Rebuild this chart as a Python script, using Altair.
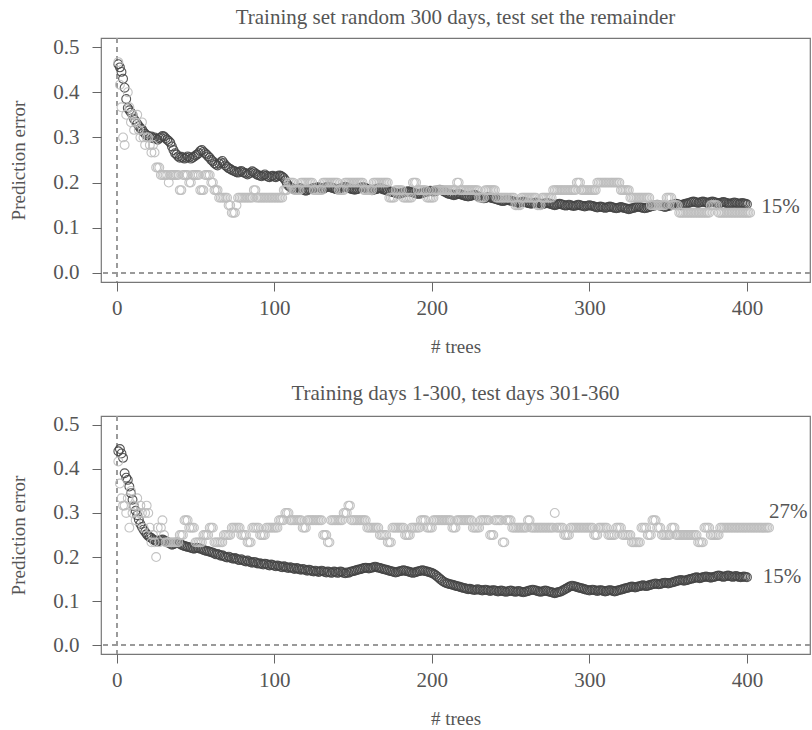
import altair as alt
import pandas as pd

# ---------------- data ----------------
TREE_TICKS = [0, 100, 200, 300, 400]
ERR_TICKS = [0.0, 0.1, 0.2, 0.3, 0.4, 0.5]

TITLE1 = "Training set random 300 days, test set the remainder"
TITLE2 = "Training days 1-300, test days 301-360"

# Panel 1: OOB error (per mille) for trees 1..400
oob1 = [
    462, 455, 445, 430, 410, 385, 365, 360, 355, 350, 340, 335, 330, 325, 320, 318, 312, 308, 305, 303,
    300, 302, 298, 300, 297, 295, 298, 300, 303, 302, 298, 295, 292, 288, 280, 272, 265, 262, 258, 255,
    257, 255, 253, 255, 258, 256, 253, 255, 257, 260, 262, 265, 270, 272, 268, 265, 262, 258, 255, 250,
    247, 243, 240, 238, 242, 245, 248, 243, 238, 235, 232, 230, 228, 226, 225, 223, 222, 224, 226, 223,
    222, 220, 218, 220, 222, 225, 223, 220, 218, 216, 215, 214, 216, 218, 215, 213, 212, 214, 215, 213,
    212, 214, 216, 215, 213, 210, 205, 198, 193, 190, 188, 186, 185, 184, 186, 188, 187, 185, 183, 182,
    183, 185, 186, 187, 188, 188, 189, 190, 188, 187, 186, 188, 190, 191, 190, 189, 188, 187, 186, 185,
    186, 187, 188, 190, 191, 190, 188, 187, 186, 185, 184, 185, 186, 188, 189, 190, 189, 188, 186, 185,
    184, 183, 184, 185, 186, 187, 188, 187, 185, 184, 183, 182, 181, 180, 179, 178, 177, 176, 175, 176,
    177, 178, 179, 180, 181, 180, 179, 178, 177, 176, 175, 175, 176, 177, 178, 179, 180, 181, 182, 181,
    180, 181, 182, 183, 184, 183, 182, 180, 178, 176, 175, 174, 173, 172, 173, 174, 175, 174, 173, 172,
    171, 170, 169, 170, 171, 172, 173, 172, 170, 168, 167, 166, 165, 166, 167, 168, 167, 166, 165, 164,
    163, 162, 161, 160, 159, 160, 161, 162, 161, 160, 159, 158, 157, 156, 155, 156, 157, 158, 157, 156,
    155, 154, 153, 154, 155, 156, 155, 154, 153, 152, 153, 154, 155, 154, 153, 152, 151, 150, 151, 152,
    153, 152, 151, 150, 149, 150, 151, 150, 149, 148, 149, 150, 151, 150, 149, 148, 147, 148, 149, 150,
    149, 148, 147, 146, 145, 146, 147, 146, 145, 144, 145, 146, 147, 146, 145, 144, 143, 144, 145, 146,
    145, 144, 143, 142, 141, 142, 143, 144, 145, 146, 147, 146, 145, 144, 143, 144, 145, 146, 147, 148,
    149, 150, 151, 150, 149, 148, 147, 146, 147, 148, 149, 150, 151, 152, 153, 152, 151, 150, 151, 152,
    153, 154, 155, 156, 157, 158, 157, 156, 155, 156, 157, 158, 157, 156, 155, 156, 157, 158, 157, 156,
    155, 154, 155, 156, 157, 156, 155, 154, 153, 154, 155, 156, 155, 154, 153, 154, 155, 154, 153, 152,
]

# Panel 1: test error, in sixtieths (60 test days); first trees one by one, then runs
test1_head = [28, 25, 22, 18, 17, 21, 24, 22, 20, 21, 19, 20, 21, 19, 18, 20, 18, 17, 18, 18,
              17, 16, 17, 16, 14, 14, 14]
test1_level = [13, 12, 13, 11, 13, 12, 13, 11, 13, 12,
               11, 10, 9, 8, 9, 10, 11, 10,
               10, 11, 12, 11,
               12, 11, 12, 11, 12, 11, 12,
               10, 11, 10, 12, 11, 10, 11,
               11, 12, 11, 10, 11,
               10, 9, 10, 9, 10,
               11, 12, 11, 12,
               12, 11, 10,
               10, 9, 10, 9,
               8, 9, 8]
test1_count = [5, 1, 6, 2, 4, 2, 5, 3, 4, 2,
               3, 6, 2, 3, 1, 10, 2, 12,
               5, 3, 4, 4,
               8, 6, 10, 4, 12, 6, 10,
               4, 5, 6, 3, 6, 5, 4,
               10, 2, 12, 4, 7,
               12, 4, 10, 3, 7,
               15, 3, 10, 9,
               6, 6, 5,
               8, 10, 4, 4,
               20, 5, 21]

# Panel 2: OOB error (per mille) for trees 1..400
oob2 = [
    440, 445, 435, 425, 390, 380, 375, 360, 345, 330, 315, 305, 295, 285, 275, 268, 262, 257, 252, 248,
    245, 243, 240, 238, 236, 235, 237, 239, 240, 238, 236, 234, 232, 230, 228, 229, 231, 233, 232, 230,
    228, 226, 225, 224, 223, 222, 221, 220, 219, 220, 221, 220, 219, 218, 216, 215, 214, 213, 212, 211,
    210, 208, 206, 207, 205, 203, 204, 202, 200, 199, 201, 199, 197, 196, 198, 196, 194, 193, 195, 193,
    191, 190, 192, 190, 188, 187, 189, 188, 186, 185, 186, 184, 183, 185, 184, 182, 181, 183, 182, 180,
    179, 181, 180, 178, 177, 179, 178, 176, 175, 177, 176, 174, 173, 175, 174, 172, 171, 173, 172, 170,
    169, 171, 170, 168, 167, 169, 168, 166, 167, 169, 168, 166, 165, 167, 166, 164, 165, 167, 166, 164,
    165, 167, 166, 164, 163, 165, 164, 166, 167, 168, 169, 170, 171, 172, 173, 174, 175, 176, 175, 174,
    175, 176, 177, 178, 177, 176, 175, 174, 173, 172, 171, 170, 169, 168, 167, 166, 165, 166, 167, 168,
    169, 170, 169, 168, 167, 166, 165, 164, 165, 166, 167, 168, 169, 170, 169, 168, 167, 166, 165, 164,
    162, 160, 157, 154, 151, 148, 145, 143, 141, 140, 139, 138, 137, 136, 135, 134, 133, 132, 131, 130,
    129, 128, 127, 128, 127, 126, 125, 126, 127, 126, 125, 124, 125, 126, 125, 124, 123, 124, 125, 124,
    123, 122, 123, 124, 123, 122, 121, 122, 123, 124, 123, 122, 121, 122, 123, 122, 121, 120, 121, 122,
    123, 124, 125, 126, 125, 124, 123, 122, 121, 122, 123, 124, 123, 122, 121, 120, 119, 118, 119, 120,
    121, 122, 124, 126, 128, 130, 132, 134, 135, 134, 133, 132, 131, 130, 129, 128, 127, 126, 125, 124,
    125, 126, 125, 124, 123, 124, 125, 124, 123, 122, 123, 124, 125, 124, 123, 122, 123, 124, 125, 126,
    127, 128, 129, 130, 131, 132, 133, 132, 131, 132, 133, 134, 135, 136, 135, 134, 135, 136, 137, 138,
    139, 140, 139, 138, 139, 140, 141, 142, 141, 140, 141, 142, 143, 144, 145, 146, 147, 148, 147, 146,
    147, 148, 149, 150, 151, 152, 153, 154, 153, 152, 153, 154, 155, 156, 155, 154, 153, 154, 155, 156,
    157, 158, 157, 156, 155, 156, 157, 158, 157, 156, 155, 156, 157, 156, 155, 154, 155, 156, 155, 154,
]

# Panel 2: test error, in sixtieths
test2_head = [25, 22, 20, 19, 19, 18, 20, 16, 21, 18, 19, 17, 20, 18, 19, 18, 16, 18, 19, 18,
              16, 14, 15, 14, 12, 16, 14, 16, 17, 15, 14, 14, 14, 14, 14]
test2_level = [14, 15, 17, 16, 14, 15, 16, 14, 15, 16, 15, 14, 16, 15, 16,
               16, 17, 18, 17, 16, 17, 15, 14, 17, 18, 19, 17, 16,
               16, 15, 14, 16, 15, 16, 17, 16,
               17, 16, 17, 16, 17, 15, 17, 14, 17,
               16, 17, 16, 18, 16, 15, 16, 15, 16, 15, 16,
               15, 14, 16, 15, 17, 16, 15, 16, 15,
               15, 14, 16, 15, 16]
test2_count = [4, 3, 3, 4, 5, 4, 3, 6, 5, 6, 4, 3, 5, 4, 5,
               3, 4, 3, 8, 3, 10, 3, 2, 8, 3, 2, 10, 2,
               6, 5, 3, 8, 4, 6, 4, 4,
               12, 3, 10, 5, 6, 3, 5, 2, 4,
               10, 2, 15, 1, 5, 4, 15, 3, 6, 5, 4,
               6, 6, 4, 3, 3, 3, 6, 3, 6,
               8, 4, 4, 6, 32]

# End-of-curve labels: panel, tree position, error level, text
label_panel = [1, 2, 2]
label_tree = [409, 414, 410]
label_err = [0.147, 0.302, 0.155]
label_text = ["15%", "27%", "15%"]


# ---------------- build tables ----------------
def expand(head, levels, counts):
    seq = list(head)
    for lv, c in zip(levels, counts):
        seq.extend([lv] * c)
    return [v / 60 for v in seq]


def table(oob, test):
    rows = [{"tree": i + 1, "err": v / 1000, "series": "OOB"} for i, v in enumerate(oob)]
    rows += [{"tree": i + 1, "err": v, "series": "Test"} for i, v in enumerate(test)]
    return pd.DataFrame(rows)


df1 = table(oob1, expand(test1_head, test1_level, test1_count))
df2 = table(oob2, expand(test2_head, test2_level, test2_count))
labels = pd.DataFrame({"panel": label_panel, "tree": label_tree, "err": label_err, "text": label_text})

SERIF = "Liberation Serif"
TXT = "#555555"


def panel(df, lab, title, height, offset):
    xs = alt.Scale(domain=[-10, 440], nice=False, zero=False)
    ys = alt.Scale(domain=[-0.02, 0.52], nice=False, zero=False)
    x = alt.X("tree:Q", scale=xs, axis=alt.Axis(values=TREE_TICKS, title="# trees", format="d"))
    y = alt.Y("err:Q", scale=ys, axis=alt.Axis(values=ERR_TICKS, title="Prediction error", format=".1f"))

    vline = alt.Chart(df).mark_rule(color="#9a9a9a", strokeDash=[5, 4], strokeWidth=1).encode(
        x=alt.datum(0, scale=xs)
    )
    hline = alt.Chart(df).mark_rule(color="#9a9a9a", strokeDash=[5, 4], strokeWidth=1).encode(
        y=alt.datum(0, scale=ys)
    )
    oob = alt.Chart(df).transform_filter(alt.datum.series == "OOB").mark_point(
        shape="circle", filled=False, size=78, strokeWidth=1.1, color="#454545", opacity=0.9
    ).encode(x=x, y=y)
    test = alt.Chart(df).transform_filter(alt.datum.series == "Test").mark_point(
        shape="circle", filled=False, size=78, strokeWidth=1.1, color="#bdbdbd", opacity=0.9
    ).encode(x=x, y=y)
    txt = alt.Chart(lab).mark_text(
        align="left", baseline="middle", font=SERIF, fontSize=21, color=TXT
    ).encode(x=alt.X("tree:Q", scale=xs), y=alt.Y("err:Q", scale=ys), text="text:N")

    return alt.layer(vline, hline, oob, test, txt).properties(
        width=709, height=height,
        title=alt.TitleParams(title, font=SERIF, fontSize=21, fontWeight="normal", color=TXT,
                              anchor="middle", offset=offset),
    )


p1 = panel(df1, labels[labels.panel == 1], TITLE1, 244, 8)
p2 = panel(df2, labels[labels.panel == 2], TITLE2, 238, 10)

chart = alt.vconcat(p1, p2, spacing=134, bounds="flush").properties(
    padding={"left": 9, "top": 6, "right": 0, "bottom": 0},
    background="white",
).configure_view(
    stroke="#777777", strokeWidth=1.2
).configure_axis(
    domain=False, grid=False, ticks=True, tickColor="#666666", tickSize=9, tickWidth=1,
    labelFont=SERIF, labelFontSize=21, labelColor=TXT, labelPadding=6,
    titleFont=SERIF, titleFontSize=19, titleFontWeight="normal", titleColor=TXT,
).configure_axisX(
    titlePadding=19
).configure_axisY(
    titlePadding=24, labelPadding=13
)

chart.save("out.html", embed_options={"renderer": "svg", "actions": False})
